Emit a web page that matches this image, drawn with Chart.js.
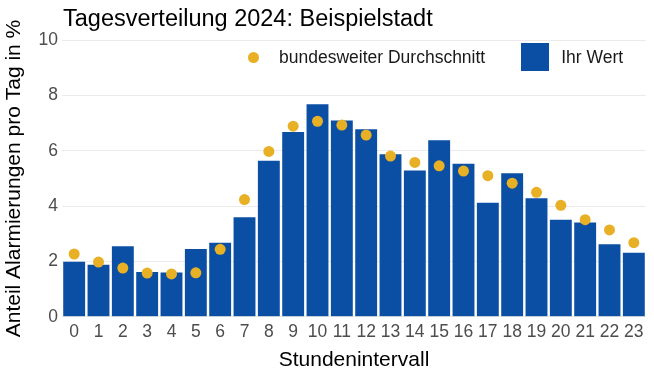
<!DOCTYPE html>
<html>
<head>
<meta charset="utf-8">
<script src="https://cdn.jsdelivr.net/npm/chart.js@4.4.1/dist/chart.umd.min.js"></script>
<style>
  html, body { margin: 0; padding: 0; background: #fff; }
  #wrap { position: relative; width: 654px; height: 377px; }
  #legend {
    position: absolute; left: 239px; top: 43px; height: 28px;
    display: flex; align-items: center; white-space: nowrap;
    font: 17.5px "Liberation Sans", Arial, sans-serif; color: #1a1a1a;
  }
  #legend .item { display: flex; align-items: center; margin-right: 36px; }
  #legend .key { width: 28px; height: 28px; display: flex; align-items: center; justify-content: center; margin-right: 12px; }
</style>
</head>
<body>
<div id="wrap">
  <canvas id="chart" width="654" height="377"></canvas>
  <div id="legend"></div>
</div>
<script>
const stunden = ["0","1","2","3","4","5","6","7","8","9","10","11","12","13","14","15","16","17","18","19","20","21","22","23"];
const ihrWert = [1.99, 1.88, 2.55, 1.62, 1.60, 2.45, 2.68, 3.60, 5.64, 6.68, 7.68, 7.10,
                 6.78, 5.88, 5.29, 6.38, 5.53, 4.12, 5.19, 4.29, 3.51, 3.41, 2.62, 2.32];
const durchschnitt = [2.27, 1.98, 1.76, 1.58, 1.55, 1.59, 2.44, 4.24, 5.98, 6.89, 7.07, 6.93,
                      6.57, 5.81, 5.58, 5.46, 5.27, 5.10, 4.83, 4.50, 4.03, 3.51, 3.14, 2.68];
const yTicks = [0, 2, 4, 6, 8, 10];

const BLAU = "#0a4fa3";
const GOLD = "#e8b025";
const FONT = '"Liberation Sans", Arial, sans-serif';

// Legende als HTML, liegt wie im Original im Plotbereich
const htmlLegend = {
  id: "htmlLegend",
  afterUpdate(chart) {
    const box = document.getElementById("legend");
    box.innerHTML = "";
    chart.data.datasets.forEach((ds) => {
      const item = document.createElement("div");
      item.className = "item";
      const key = document.createElement("span");
      key.className = "key";
      const mark = document.createElement("span");
      if (ds.type === "line") {
        mark.style.cssText = `width:11px;height:11px;border-radius:50%;background:${ds.backgroundColor}`;
      } else {
        mark.style.cssText = `width:28px;height:28px;background:${ds.backgroundColor}`;
      }
      key.appendChild(mark);
      const text = document.createElement("span");
      text.textContent = ds.label;
      item.appendChild(key);
      item.appendChild(text);
      box.appendChild(item);
    });
  }
};

// Titel bündig mit dem Plotbereich
const titleToPanel = {
  id: "titleToPanel",
  afterLayout(chart) {
    if (chart.titleBlock) chart.titleBlock.left = chart.chartArea.left + 1;
  }
};

new Chart(document.getElementById("chart"), {
  data: {
    labels: stunden,
    datasets: [
      {
        type: "line",
        label: "bundesweiter Durchschnitt",
        data: durchschnitt,
        showLine: false,
        backgroundColor: GOLD,
        borderColor: GOLD,
        borderWidth: 0,
        pointRadius: 5.5,
        order: 0
      },
      {
        type: "bar",
        label: "Ihr Wert",
        data: ihrWert,
        backgroundColor: BLAU,
        barPercentage: 0.9,
        categoryPercentage: 1.0,
        order: 1
      }
    ]
  },
  options: {
    responsive: false,
    animation: false,
    layout: { padding: { left: 2, right: 8, top: 0, bottom: 4 } },
    plugins: {
      legend: { display: false },
      tooltip: { enabled: false },
      title: {
        display: true,
        align: "start",
        text: "Tagesverteilung 2024: Beispielstadt",
        color: "#000",
        font: { family: FONT, size: 23.5, weight: "normal" },
        padding: { top: 5, bottom: 7 }
      }
    },
    scales: {
      x: {
        offset: true,
        grid: { display: false, drawTicks: false },
        border: { display: false },
        ticks: { color: "#4d4d4d", font: { family: FONT, size: 17.5 }, padding: 5, maxRotation: 0, autoSkip: false },
        title: {
          display: true,
          text: "Stundenintervall",
          color: "#000",
          font: { family: FONT, size: 21 },
          padding: { top: 0, bottom: 0 }
        }
      },
      y: {
        min: 0,
        max: 10,
        afterBuildTicks: (s) => { s.ticks = yTicks.map((v) => ({ value: v })); },
        afterFit: (s) => { s.width = 60; },
        grid: { color: "#ebebeb", lineWidth: 1, drawTicks: false },
        border: { display: false },
        ticks: { color: "#4d4d4d", font: { family: FONT, size: 17.5 }, padding: 4 },
        title: {
          display: true,
          text: "Anteil Alarmierungen pro Tag in %",
          color: "#000",
          font: { family: FONT, size: 21 },
          padding: { top: 0, bottom: 0 }
        }
      }
    }
  },
  plugins: [htmlLegend, titleToPanel]
});
</script>
</body>
</html>
